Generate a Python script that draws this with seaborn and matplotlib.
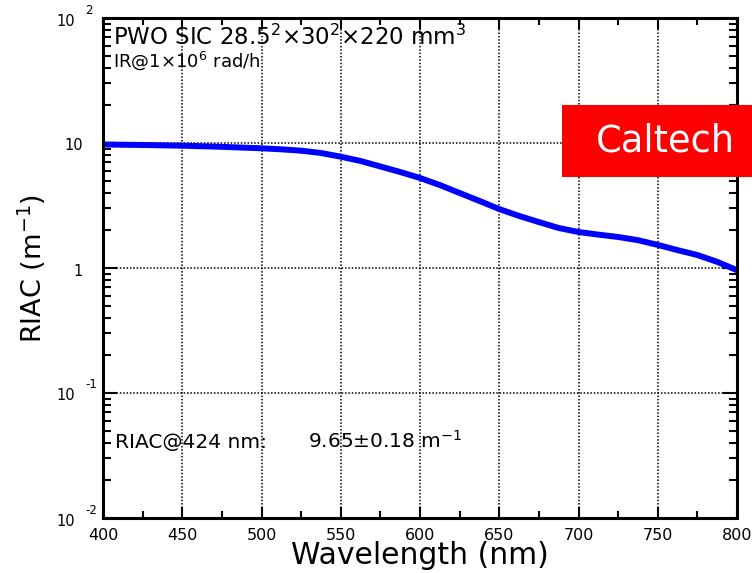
import matplotlib
matplotlib.use("Agg")
import matplotlib.pyplot as plt
from matplotlib.patches import Rectangle
from matplotlib.transforms import blended_transform_factory, offset_copy
from matplotlib.ticker import LogLocator, MultipleLocator, FixedLocator, NullFormatter
import seaborn as sns
import pandas as pd

# Radiation-induced absorption coefficient vs wavelength
wavelength = [400, 425, 450, 475, 500, 512.5, 525, 537.5, 550, 562.5, 575, 587.5,
              600, 612.5, 625, 637.5, 650, 662.5, 675, 687.5, 700, 712.5, 725,
              737.5, 750, 762.5, 775, 787.5, 800]
riac = [9.73, 9.64, 9.52, 9.32, 9.07, 8.90, 8.68, 8.32, 7.77, 7.18, 6.49, 5.86,
        5.25, 4.61, 3.98, 3.44, 2.96, 2.61, 2.33, 2.09, 1.94, 1.85, 1.77,
        1.67, 1.53, 1.39, 1.27, 1.12, 0.96]

xtick_vals = [400, 450, 500, 550, 600, 650, 700, 750, 800]
ytick_vals = [0.01, 0.1, 1, 10, 100]
ytick_base = ["10", "10", "1", "10", "10"]
ytick_exp = ["-2", "-1", "", "", "2"]

sns.set_style("ticks")
plt.rcParams["font.family"] = ["DejaVu Sans"]
plt.rcParams["mathtext.fontset"] = "dejavusans"
plt.rcParams["text.color"] = "black"
plt.rcParams["axes.labelcolor"] = "black"
plt.rcParams["xtick.color"] = "black"
plt.rcParams["ytick.color"] = "black"

fig = plt.figure(figsize=(7.52, 5.73), dpi=100)
ax = fig.add_axes([103 / 752, 55 / 573, 634 / 752, 500 / 573])

df = pd.DataFrame({"Wavelength": wavelength, "RIAC": riac})
sns.lineplot(data=df, x="Wavelength", y="RIAC", ax=ax, color="#0000ff", linewidth=4.3)

ax.set_yscale("log")
ax.set_xlim(400, 800)
ax.set_ylim(0.01, 100)

ax.xaxis.set_major_locator(FixedLocator(xtick_vals))
ax.xaxis.set_minor_locator(MultipleLocator(25))
ax.yaxis.set_major_locator(FixedLocator(ytick_vals))
ax.yaxis.set_minor_locator(LogLocator(base=10, subs=range(2, 10), numticks=20))
ax.yaxis.set_minor_formatter(NullFormatter())

ax.grid(True, which="major", color="black", linestyle=(0, (1, 1.2)), linewidth=1.1)
ax.tick_params(which="both", direction="in", top=True, right=True, width=1.5, colors="black")
ax.tick_params(axis="x", which="major", length=8, pad=7, labelsize=11.5, labelcolor="black")
ax.tick_params(axis="x", which="minor", length=5)
ax.tick_params(axis="y", which="major", length=10, labelleft=False)
ax.tick_params(axis="y", which="minor", length=5.5)
for s in ax.spines.values():
    s.set_linewidth(2.2)
    s.set_color("black")

# y tick labels in "10 ^n" style: mantissa plus raised exponent
ylab_trans = blended_transform_factory(ax.transAxes, ax.transData)
base_trans = offset_copy(ylab_trans, fig=fig, x=0, y=-3, units="dots")
exp_trans = offset_copy(ylab_trans, fig=fig, x=0, y=8, units="dots")
for val, base, ex in zip(ytick_vals, ytick_base, ytick_exp):
    if ex:
        ax.text(-28 / 634, val, base, transform=base_trans, ha="right", va="center",
                fontsize=10.5, color="black")
        ax.text(-18 / 634, val, ex, transform=exp_trans, ha="left", va="center",
                fontsize=8.5, color="black")
    else:
        ax.text(-20 / 634, val, base, transform=base_trans, ha="right", va="center",
                fontsize=10.5, color="black")

ax.set_xlabel("Wavelength (nm)", fontsize=21.5, labelpad=-1, color="black")
ax.set_ylabel(r"RIAC (m$^{-1}$)", fontsize=19.5, labelpad=36, color="black")

ax.text(10 / 634, (518 - 45) / 500, r"PWO SIC 28.5$^{2}$$\times$30$^{2}$$\times$220 mm$^{3}$",
        transform=ax.transAxes, fontsize=16.5, va="baseline", ha="left", color="black")
ax.text(10 / 634, (518 - 67) / 500, r"IR@1$\times$10$^{6}$ rad/h",
        transform=ax.transAxes, fontsize=13, va="baseline", ha="left", color="black")
ax.text(12 / 634, (518 - 448) / 500, "RIAC@424 nm:",
        transform=ax.transAxes, fontsize=14.5, va="baseline", ha="left", color="black")
ax.text(205 / 634, (518 - 448) / 500, r"9.65$\pm$0.18 m$^{-1}$",
        transform=ax.transAxes, fontsize=14.5, va="baseline", ha="left", color="black")

# Institution badge
fig.patches.append(Rectangle((562 / 752, 1 - 177 / 573), 200 / 752, 72 / 573,
                             transform=fig.transFigure, facecolor="#ff0000",
                             edgecolor="none", zorder=5))
fig.text(665 / 752, 1 - 141 / 573, "Caltech", color="white", fontsize=26.5,
         ha="center", va="center", zorder=6)

fig.savefig("out.png", dpi=100)
